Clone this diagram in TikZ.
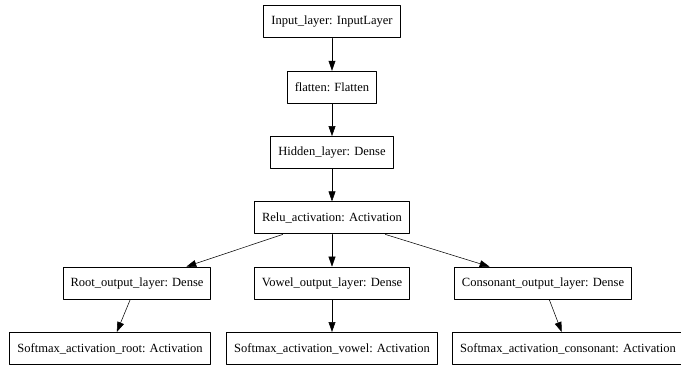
\documentclass[tikz,border=0pt]{standalone}
\usepackage{fontspec}
\setmainfont{Liberation Serif}
\usetikzlibrary{arrows.meta}
\begin{document}
\begin{tikzpicture}[x=0.75pt, y=-0.75pt, font=\fontsize{9.4}{11}\selectfont, line join=round, line cap=round, >={Triangle[length=7.5pt,width=5.2pt]},
	layer/.style={draw, line width=0.75pt, inner xsep=5.6pt, minimum height=24pt}]
	\def\xm{332} \def\dy{65.3} % truc giua, khoang cach hang
	\useasboundingbox (0,0) rectangle (681,367);
	\node[layer] (input) at (\xm,22) {Input\_layer: InputLayer};
	\node[layer] (flat) at (\xm,22+\dy) {flatten: Flatten};
	\node[layer] (hidden) at (\xm,22+2*\dy) {Hidden\_layer: Dense};
	\node[layer] (relu) at (\xm,22+3*\dy) {Relu\_activation: Activation};
	\node[layer] (root) at (137,22+4*\dy) {Root\_output\_layer: Dense};
	\node[layer] (vowel) at (\xm,22+4*\dy) {Vowel\_output\_layer: Dense};
	\node[layer] (cons) at (543,22+4*\dy) {Consonant\_output\_layer: Dense};
	\node[layer] (smroot) at (110,22+5*\dy) {Softmax\_activation\_root: Activation};
	\node[layer] (smvowel) at (\xm,22+5*\dy) {Softmax\_activation\_vowel: Activation};
	\node[layer] (smcons) at (568,22+5*\dy) {Softmax\_activation\_consonant: Activation};
	\draw[->] (input)--(flat);
	\draw[->] (flat)--(hidden);
	\draw[->] (hidden)--(relu);
	\draw[->] (relu)--(root);
	\draw[->] (relu)--(vowel);
	\draw[->] (relu)--(cons);
	\draw[->] (root)--(smroot);
	\draw[->] (vowel)--(smvowel);
	\draw[->] (cons)--(smcons);
\end{tikzpicture}
\end{document}
